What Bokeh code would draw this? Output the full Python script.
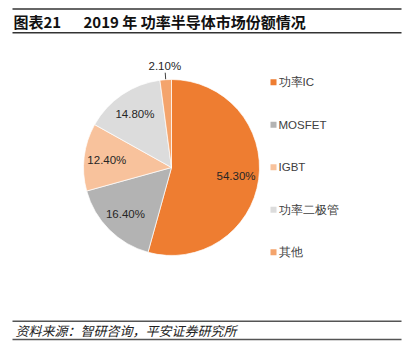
import math
from bokeh.plotting import figure
from bokeh.models import Range1d
from bokeh.core.properties import value
from bokeh.embed import file_html
from bokeh.resources import INLINE

categories = ["功率IC", "MOSFET", "IGBT", "功率二极管", "其他"]
shares = [54.3, 16.4, 12.4, 14.8, 2.1]
colors = ["#EE7D31", "#B3B3B3", "#F8C29C", "#DCDCDC", "#F4A46C"]
title_prefix = "图表21"
title_text = "2019 年 功率半导体市场份额情况"
source_text = "资料来源：智研咨询，平安证券研究所"

W, H = 404, 352
OFF = 0
p = figure(width=W, height=H, x_range=Range1d(0, W), y_range=Range1d(0, H),
           output_backend="svg", toolbar_location=None, min_border=0)
p.axis.visible = False
p.grid.visible = False
p.outline_line_color = None
p.background_fill_color = "white"
p.border_fill_color = "white"


def X(rx):
    return rx - OFF


def Y(ry):
    return H + OFF - ry


# pie
cx, cy, R = X(171), Y(167), 88
total = sum(shares)
starts, ends, mids = [], [], []
a = math.pi / 2
for s in shares:
    sweep = 2 * math.pi * s / total
    starts.append(a)
    ends.append(a - sweep)
    mids.append(a - sweep / 2)
    a -= sweep
p.wedge(x=cx, y=cy, radius=R, start_angle=starts, end_angle=ends, direction="clock",
        fill_color=colors, line_color="white", line_width=0.7)

# data labels
lab_font = value("Liberation Sans")
for s, m in zip(shares, mids):
    txt = f"{s:.2f}%"
    if s / total < 0.05:
        p.segment(x0=[cx + (R + 0.5) * math.cos(m)], y0=[cy + (R + 0.5) * math.sin(m)],
                  x1=[cx + (R + 7) * math.cos(m)], y1=[cy + (R + 7) * math.sin(m)],
                  line_color="#404040", line_width=1)
        lx, ly = cx + (R + 13.5) * math.cos(m), cy + (R + 13.5) * math.sin(m)
    else:
        lx, ly = cx + 0.74 * R * math.cos(m), cy + 0.74 * R * math.sin(m)
    p.text(x=[lx], y=[ly], text=[txt], text_align="center", text_baseline="middle",
           text_font=lab_font, text_font_size="11.5px", text_color="#262626")

# legend
leg_y0, leg_dy = Y(81.7), 42.5
for i, (c, col) in enumerate(zip(categories, colors)):
    yy = leg_y0 - i * leg_dy
    p.rect(x=[X(273)], y=[yy], width=6, height=6, fill_color=col, line_color=None)
    p.text(x=[X(278)], y=[yy], text=[c], text_align="left", text_baseline="middle",
           text_font=value("Liberation Sans"), text_font_size="11.5px", text_color="#404040")

# header
p.segment(x0=[X(12), X(12)], y0=[Y(8.5), Y(32.3)], x1=[X(401), X(401)], y1=[Y(8.5), Y(32.3)],
          line_color="#333333", line_width=1.5)
p.text(x=[X(13)], y=[Y(21)], text=[title_prefix], text_align="left", text_baseline="middle",
       text_font=value("Noto Sans CJK SC"), text_font_style="bold", text_font_size="15px",
       text_color="#111111")
p.text(x=[X(83)], y=[Y(21)], text=[title_text], text_align="left", text_baseline="middle",
       text_font=value("Noto Sans CJK SC"), text_font_style="bold", text_font_size="15px",
       text_color="#111111")

# source
p.segment(x0=[X(12), X(12)], y0=[Y(320.7), Y(339)], x1=[X(401), X(401)], y1=[Y(320.7), Y(339)],
          line_color="#555555", line_width=1.5)
p.text(x=[X(15)], y=[Y(330)], text=[source_text], text_align="left", text_baseline="middle",
       text_font=value("Noto Sans CJK SC"), text_font_style="italic", text_font_size="13px",
       text_color="#222222")

open("out.html", "w").write(file_html(p, INLINE))
